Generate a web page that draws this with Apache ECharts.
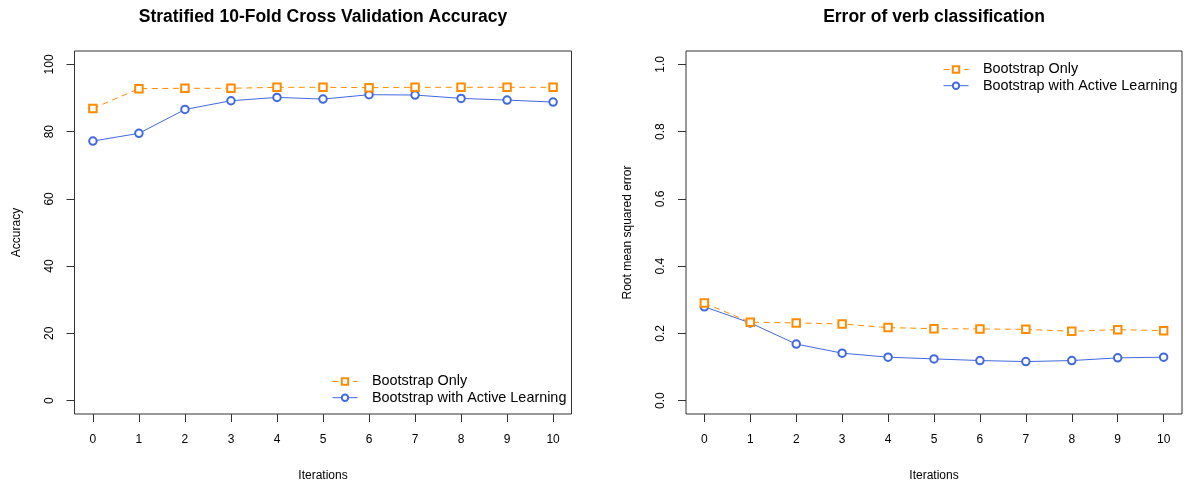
<!DOCTYPE html>
<html>
<head>
<meta charset="utf-8">
<script src="https://cdn.jsdelivr.net/npm/echarts@6/dist/echarts.min.js"></script>
<style>
html,body{margin:0;padding:0;background:#fff;}
#c{width:1188px;height:487px;}
</style>
</head>
<body>
<div id="c"></div>
<script>
// ---- data ----
const iterations = [0, 1, 2, 3, 4, 5, 6, 7, 8, 9, 10];
const accBootstrapOnly = [86.9, 92.8, 92.9, 92.9, 93.2, 93.2, 93.1, 93.2, 93.2, 93.2, 93.2];
const accActive = [77.2, 79.5, 86.6, 89.2, 90.2, 89.7, 91.0, 90.9, 89.9, 89.4, 88.8];
const rmseBootstrapOnly = [0.290, 0.233, 0.231, 0.228, 0.217, 0.214, 0.213, 0.212, 0.206, 0.211, 0.208];
const rmseActive = [0.279, 0.231, 0.168, 0.141, 0.129, 0.124, 0.119, 0.116, 0.119, 0.127, 0.129];
const xTicks = [0, 1, 2, 3, 4, 5, 6, 7, 8, 9, 10];
const accTicks = [0, 20, 40, 60, 80, 100];
const rmseTicks = [0, 0.2, 0.4, 0.6, 0.8, 1.0];
const seriesNames = ['Bootstrap Only', 'Bootstrap with Active Learning'];
const titles = ['Stratified 10-Fold Cross Validation Accuracy', 'Error of verb classification'];

const FONT = '"Liberation Sans", Arial, Helvetica, sans-serif';
const ORANGE = '#FF8C00';
const BLUE = '#4169E1';
const AXC = '#333';

function pairs(ys){ return iterations.map((x, i) => [x, ys[i]]); }

function xAxis(gi){
  return {
    type: 'value', gridIndex: gi, min: -0.4, max: 10.4,
    name: 'Iterations', nameLocation: 'middle', nameGap: 56,
    nameTextStyle: {fontFamily: FONT, fontSize: 12, color: '#000'},
    axisLine: {show: false, onZero: false},
    axisTick: {show: true, inside: false, length: 8, customValues: xTicks, lineStyle: {color: AXC}},
    axisLabel: {customValues: xTicks, margin: 20, fontFamily: FONT, fontSize: 12, color: '#000'},
    splitLine: {show: false}
  };
}
function yAxis(gi, min, max, ticks, name, fmt){
  return {
    type: 'value', gridIndex: gi, min: min, max: max,
    name: name, nameLocation: 'middle', nameGap: 52, nameRotate: 90,
    nameTextStyle: {fontFamily: FONT, fontSize: 12, color: '#000'},
    axisLine: {show: false, onZero: false},
    axisTick: {show: true, inside: false, length: 8, customValues: ticks, lineStyle: {color: AXC}},
    axisLabel: {customValues: ticks, rotate: 90, margin: 19, fontFamily: FONT, fontSize: 12, color: '#000', formatter: fmt},
    splitLine: {show: false}
  };
}
function lineSeries(name, data, gi, dashed){
  return {
    type: 'line', name: name, xAxisIndex: gi, yAxisIndex: gi, data: data,
    symbol: dashed ? 'emptyRect' : 'emptyCircle', symbolSize: 7.5,
    color: dashed ? ORANGE : BLUE,
    lineStyle: {width: 1, type: dashed ? [6, 4.5] : 'solid', color: dashed ? ORANGE : BLUE},
    itemStyle: {color: dashed ? ORANGE : BLUE, borderWidth: 1},
    emphasis: {disabled: true},
    z: dashed ? 3 : 2
  };
}
function legend(left, top){
  return {
    orient: 'vertical', left: left, top: top, padding: 0,
    itemWidth: 25, itemHeight: 8, itemGap: 2.2,
    data: seriesNames,
    lineStyle: {width: 1},
    itemStyle: {borderWidth: 1},
    textStyle: {fontFamily: FONT, fontSize: 14.4, color: '#000', padding: [0, 0, 0, 9.5]},
    selectedMode: false
  };
}

const chart = echarts.init(document.getElementById('c'), null, {renderer: 'canvas'});
chart.setOption({
  animation: false,
  backgroundColor: '#fff',
  title: [
    {text: titles[0], left: 323, top: 8, textAlign: 'center', padding: 0,
     textStyle: {fontFamily: FONT, fontSize: 17.5, fontWeight: 'bold', color: '#000'}},
    {text: titles[1], left: 934, top: 8, textAlign: 'center', padding: 0,
     textStyle: {fontFamily: FONT, fontSize: 17.5, fontWeight: 'bold', color: '#000'}}
  ],
  grid: [
    {left: 74.5, top: 51, width: 497, height: 364, show: true, borderColor: AXC, borderWidth: 1, backgroundColor: 'transparent'},
    {left: 686, top: 51, width: 496, height: 364, show: true, borderColor: AXC, borderWidth: 1, backgroundColor: 'transparent'}
  ],
  xAxis: [xAxis(0), xAxis(1)],
  yAxis: [
    yAxis(0, -4, 104, accTicks, 'Accuracy', v => String(v)),
    yAxis(1, -0.04, 1.04, rmseTicks, 'Root mean squared error', v => v.toFixed(1))
  ],
  legend: [legend(332, 374.5), legend(943, 62.5)],
  series: [
    lineSeries(seriesNames[0], pairs(accBootstrapOnly), 0, true),
    lineSeries(seriesNames[1], pairs(accActive), 0, false),
    lineSeries(seriesNames[0], pairs(rmseBootstrapOnly), 1, true),
    lineSeries(seriesNames[1], pairs(rmseActive), 1, false)
  ]
});
</script>
</body>
</html>
